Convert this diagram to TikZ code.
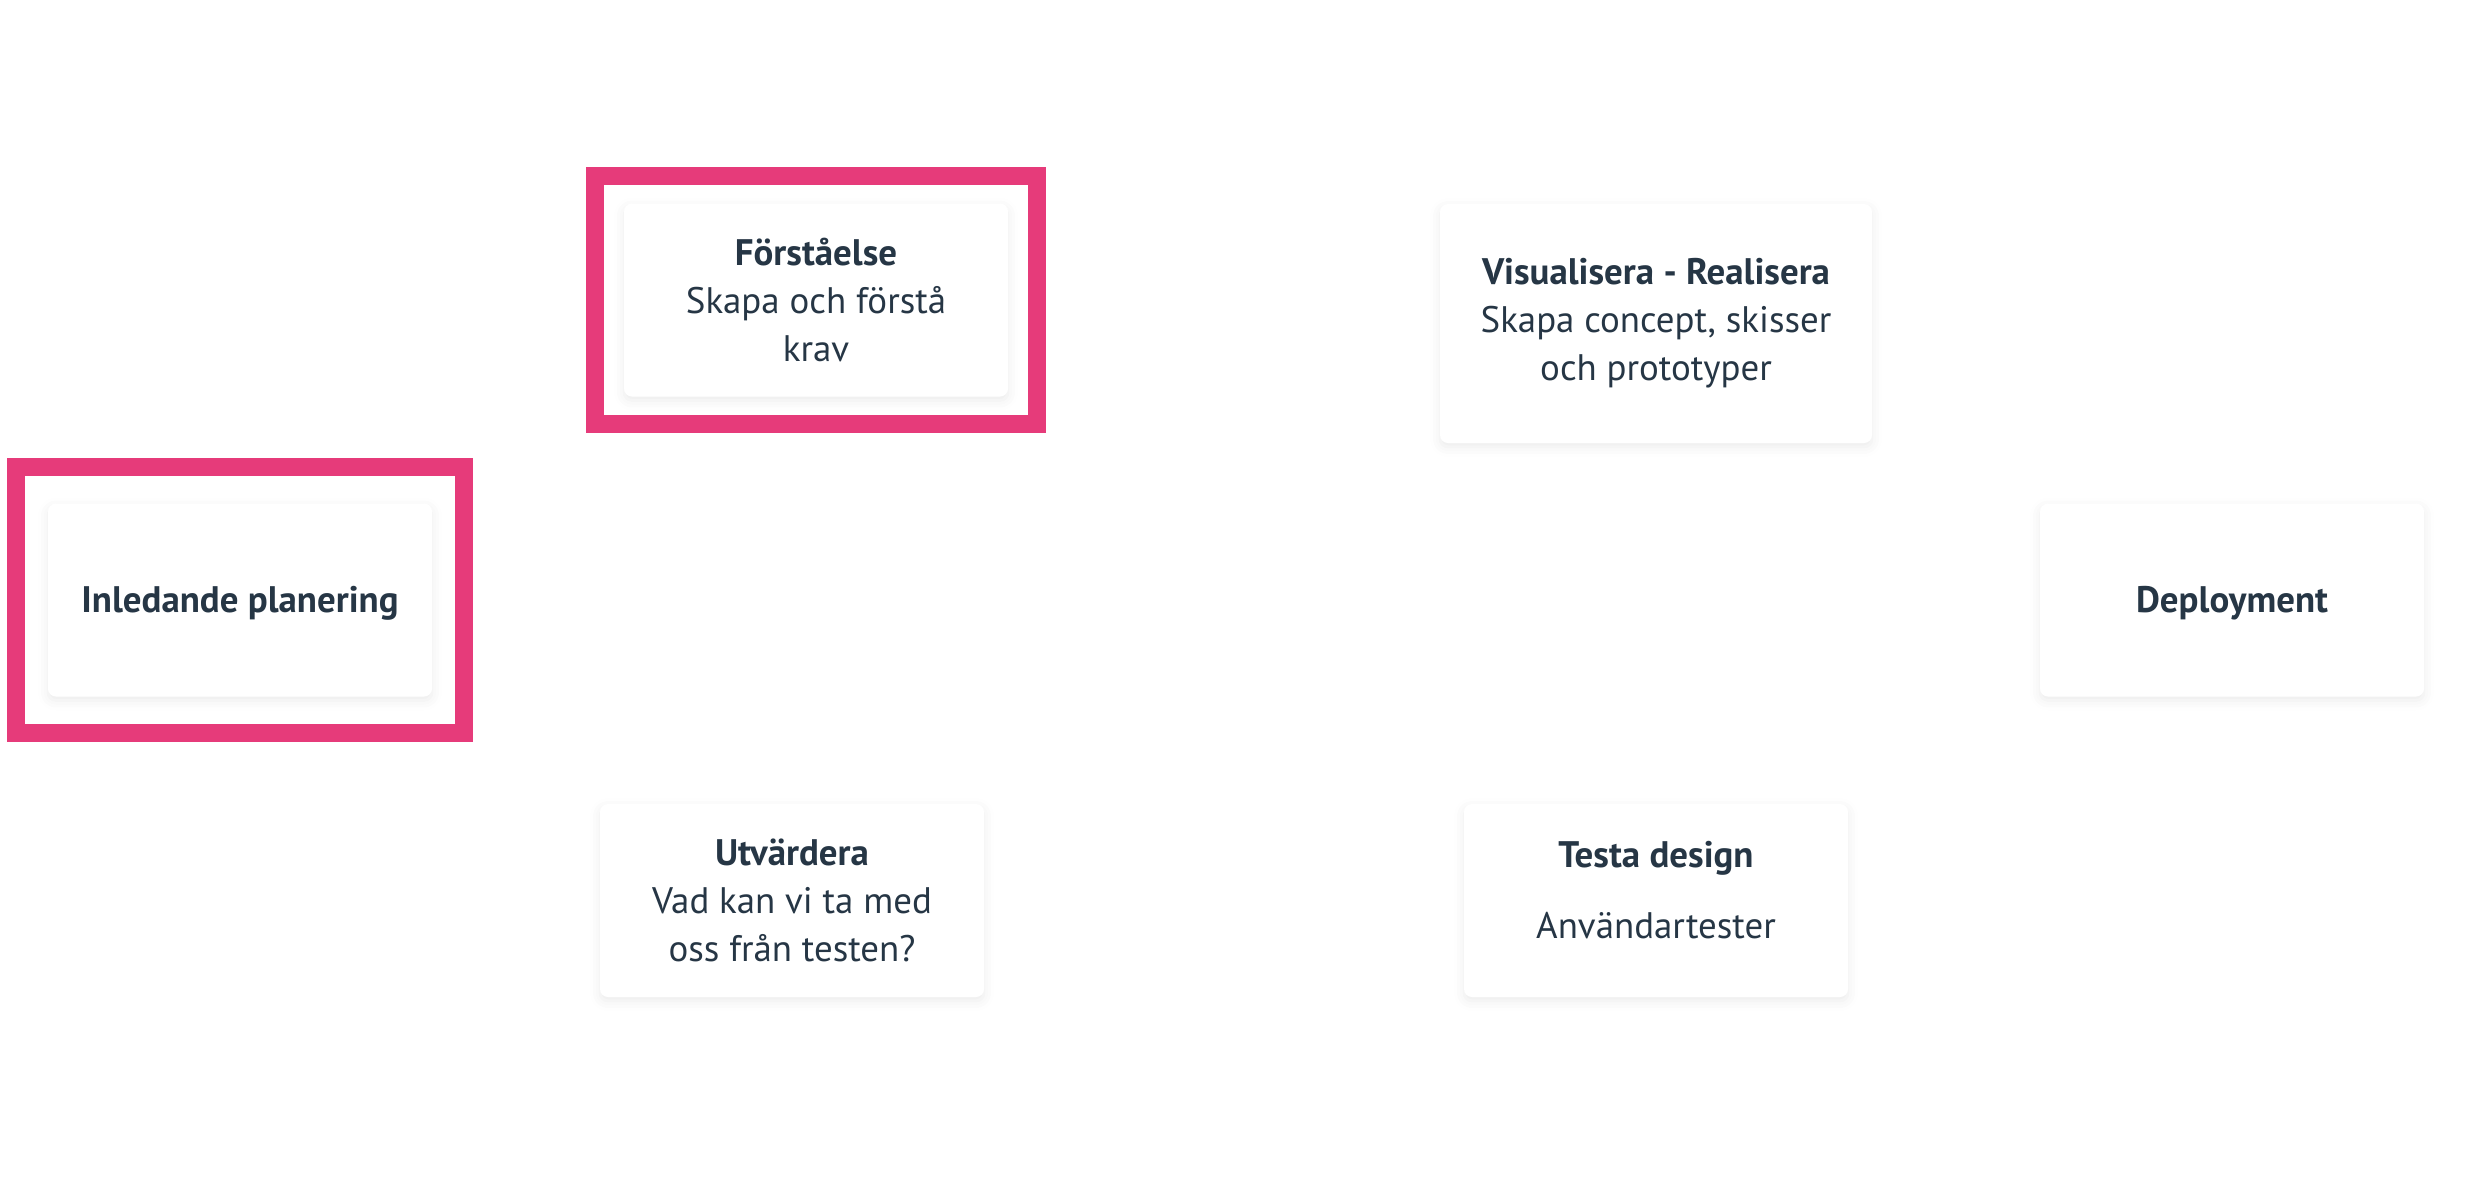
\documentclass[tikz,border=0pt]{standalone}
\usepackage{fontspec}
\setmainfont{PT Sans}
\usepackage{tikz}
\usetikzlibrary{shapes.geometric, arrows, shadows.blur, fit}
\definecolor{cardtext}{HTML}{263645}
\definecolor{markpink}{HTML}{E63B7A}
\tikzstyle{card} = [rectangle, rounded corners=0.08cm, minimum width=3.84cm, minimum height=1.93cm, inner sep=0pt, fill=white, text=cardtext, blur shadow={shadow xshift=0pt, shadow yshift=-0.04cm, shadow blur radius=0.1cm, shadow opacity=8}]
\tikzstyle{singlecard} = [card, text height=0.25cm, text depth=0cm]
\tikzstyle{widecard} = [card, minimum width=4.32cm, minimum height=2.39cm]
\tikzstyle{markframe} = [rectangle, draw=markpink, line width=0.18cm]

\begin{document}
\begin{tikzpicture}[align=center, node distance=1cm, font=\fontsize{10.5}{13.66}\selectfont]
      \useasboundingbox (0,0) rectangle (24.72,-12);
      \node (inl) [singlecard] at (2.40,-6.00) {\textbf{Inledande planering}};
      \node (fors) [card, right of=inl, xshift=4.76cm, yshift=3cm] {\textbf{Förståelse}\\Skapa och förstå\\krav};
      \node (vis) [widecard, right of=fors, xshift=7.40cm, yshift=-0.235cm] {\textbf{Visualisera - Realisera}\\Skapa concept, skisser\\och prototyper};
      \node (dep) [singlecard, right of=inl, xshift=18.92cm] {\textbf{Deployment}};
      \node (utv) [card, below of=fors, xshift=-0.24cm, yshift=-5.005cm] {\textbf{Utvärdera}\\Vad kan vi ta med\\oss från testen?};
      \node (test) [card, right of=utv, xshift=7.64cm] {\textbf{Testa design}\\[0.23cm]Användartester\\[-0.26cm]\mbox{}};
      \node (inlmark) [markframe, fit=(inl), inner xsep=0.315cm, inner ysep=0.36cm] {};
      \node (forsmark) [markframe, fit=(fors), inner xsep=0.285cm, inner ysep=0.27cm] {};
    \end{tikzpicture}
\end{document}
